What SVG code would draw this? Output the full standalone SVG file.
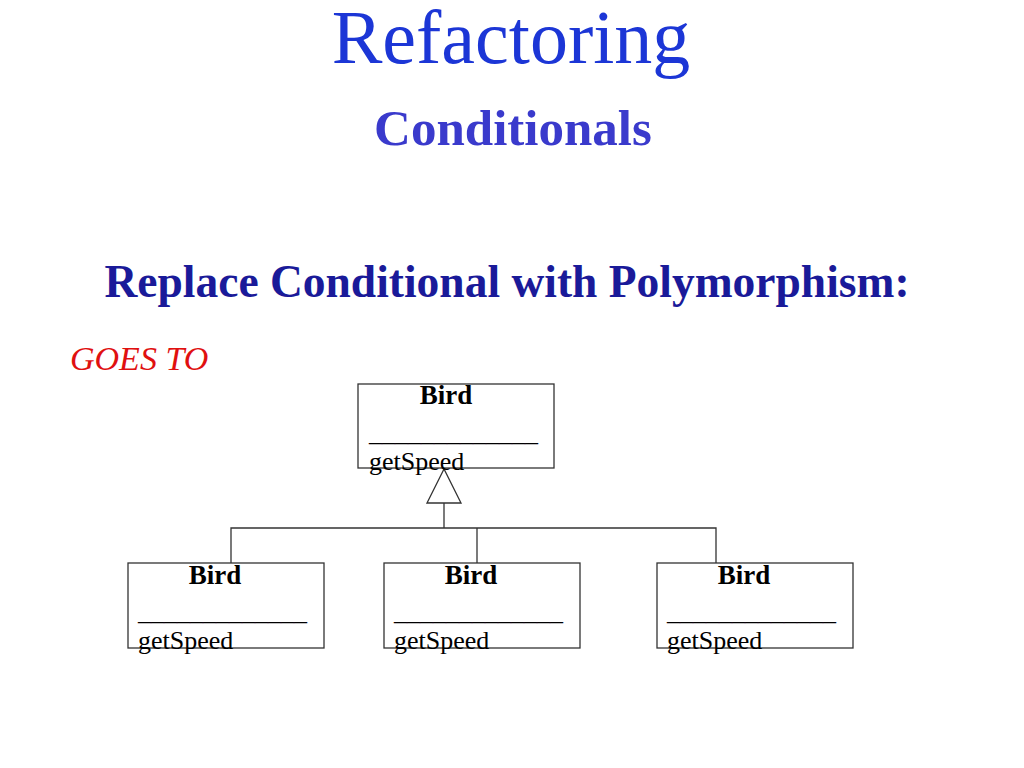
<svg xmlns="http://www.w3.org/2000/svg" width="1024" height="768" viewBox="0 0 1024 768">
<style>
.t{font-family:"Liberation Serif","Times New Roman",serif}
.box{fill:#fff;stroke:#333;stroke-width:1.3}
.nm{font-family:"Liberation Serif",serif;font-weight:bold;font-size:27px;fill:#000;text-anchor:middle}
.op{font-family:"Liberation Serif",serif;font-size:26px;fill:#000}
.ln{stroke:#333;stroke-width:1.3;fill:none}
</style>
<rect width="1024" height="768" fill="#fff"/>
<text class="t" x="511" y="63" text-anchor="middle" font-size="76" fill="#1c36d6">Refactoring</text>
<text class="t" x="513" y="145" text-anchor="middle" font-size="51" font-weight="bold" fill="#3a3acc">Conditionals</text>
<text class="t" x="507" y="297" text-anchor="middle" font-size="45.5" font-weight="bold" fill="#1a1a99">Replace Conditional with Polymorphism:</text>
<text class="t" x="70" y="370" font-size="34" font-style="italic" fill="#e01010">GOES TO</text>
<g id="connectors">
<polyline class="ln" points="444,503 444,528"/>
<polyline class="ln" points="231,563 231,528 716,528 716,563"/>
<polyline class="ln" points="477,528 477,563"/>
<polygon points="444,469 427,503 461,503" fill="#fff" stroke="#333" stroke-width="1.3"/>
</g>
<g id="bird-base">
<rect class="box" x="358" y="384" width="196" height="84"/>
<text class="nm" x="446" y="404">Bird</text>
<text class="op" x="369" y="441">_____________</text>
<text class="op" x="369" y="470">getSpeed</text>
</g>
<g id="bird-1">
<rect class="box" x="128" y="563" width="196" height="85"/>
<text class="nm" x="215" y="584">Bird</text>
<text class="op" x="138" y="620">_____________</text>
<text class="op" x="138" y="649">getSpeed</text>
</g>
<g id="bird-2">
<rect class="box" x="384" y="563" width="196" height="85"/>
<text class="nm" x="471" y="584">Bird</text>
<text class="op" x="394" y="620">_____________</text>
<text class="op" x="394" y="649">getSpeed</text>
</g>
<g id="bird-3">
<rect class="box" x="657" y="563" width="196" height="85"/>
<text class="nm" x="744" y="584">Bird</text>
<text class="op" x="667" y="620">_____________</text>
<text class="op" x="667" y="649">getSpeed</text>
</g>
</svg>
